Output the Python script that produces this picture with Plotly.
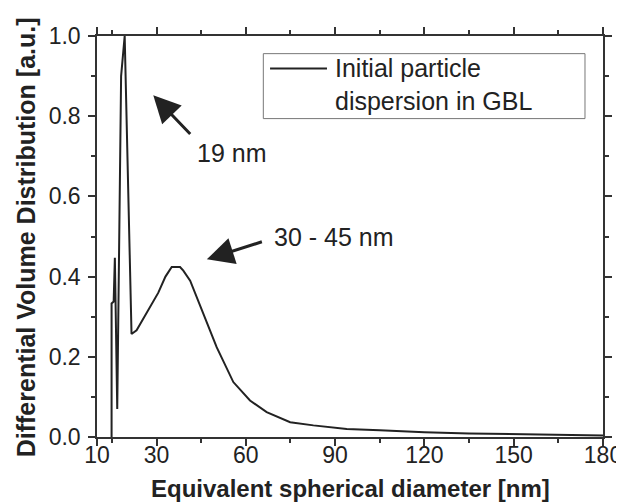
import plotly.graph_objects as go

# Data
diameter_nm = [14.9, 14.9, 15.6, 16.0, 16.8, 18.2, 18.1, 19.3, 21.6, 23.3, 27.2,
               30.6, 33.0, 35.1, 37.9, 39.0, 41.3, 44.6, 48.0, 50.2, 55.8, 61.4,
               67.0, 74.9, 82.7, 93.9, 105.0, 120.0, 135.0, 150.0, 165.0, 180.0]
volume_dist = [0.0, 0.333, 0.338, 0.447, 0.070, 0.845, 0.900, 1.0, 0.257, 0.266, 0.316,
               0.360, 0.400, 0.424, 0.424, 0.415, 0.390, 0.330, 0.266, 0.224, 0.137, 0.091,
               0.062, 0.037, 0.029, 0.020, 0.017, 0.012, 0.009, 0.007, 0.005, 0.004]

x_tick_vals = [10, 30, 60, 90, 120, 150, 180]
x_minor_vals = [15, 45, 75, 105, 135, 165]
y_tick_vals = [0.0, 0.2, 0.4, 0.6, 0.8, 1.0]

series_name = "Initial particle<br>dispersion in GBL"
x_title = "Equivalent spherical diameter [nm]"
y_title = "Differential Volume Distribution [a.u.]"

FONT = "Liberation Sans, Arial, sans-serif"
INK = "#222222"
AXC = "#333333"

fig = go.Figure()
fig.add_trace(go.Scatter(x=diameter_nm, y=volume_dist, mode="lines",
                         line=dict(color=INK, width=2), name=series_name,
                         showlegend=False, cliponaxis=False))

axis_common = dict(showline=True, linecolor=AXC, linewidth=1.5, mirror="ticks",
                   ticks="outside", ticklen=7, tickwidth=1.5, tickcolor=AXC,
                   showgrid=False, zeroline=False, automargin=False,
                   tickfont=dict(family=FONT, size=23, color=INK))

fig.update_xaxes(range=[10, 180], tickmode="array", tickvals=x_tick_vals,
                 minor=dict(tickmode="array", tickvals=x_minor_vals, ticks="outside",
                            ticklen=4, tickwidth=1.5, tickcolor=AXC),
                 ticklabelstandoff=-10,
                 **axis_common)
fig.update_yaxes(range=[0, 1.0], tickmode="array", tickvals=y_tick_vals,
                 tickformat=".1f",
                 minor=dict(dtick=0.1, ticks="outside", ticklen=4, tickwidth=1.5,
                            tickcolor=AXC),
                 ticklabelstandoff=3,
                 **axis_common)

# Axis titles
fig.add_annotation(x=0.5, y=-0.128, xref="paper", yref="paper",
                   text="<b>%s</b>" % x_title, showarrow=False,
                   xanchor="center", yanchor="middle",
                   font=dict(family=FONT, size=24, color=INK))
fig.add_annotation(x=-0.1403, y=0.498, xref="paper", yref="paper",
                   text="<b>%s</b>" % y_title, showarrow=False, textangle=-90,
                   xanchor="center", yanchor="middle",
                   font=dict(family=FONT, size=25, color=INK))

# Arrows (head at x,y ; tail at ax,ay)
fig.add_annotation(x=28.9, y=0.852, ax=41.8, ay=0.752, xref="x", yref="y",
                   axref="x", ayref="y", text="", showarrow=True, arrowhead=2,
                   arrowsize=1.8, arrowwidth=3, arrowcolor=INK, standoff=0)
fig.add_annotation(x=43.0, y=0.707, xref="x", yref="y", text="19 nm",
                   showarrow=False, xanchor="left", yanchor="middle",
                   font=dict(family=FONT, size=25, color=INK))
fig.add_annotation(x=46.9, y=0.443, ax=65.9, ay=0.488, xref="x", yref="y",
                   axref="x", ayref="y", text="", showarrow=True, arrowhead=2,
                   arrowsize=1.8, arrowwidth=3, arrowcolor=INK, standoff=0)
fig.add_annotation(x=68.8, y=0.498, xref="x", yref="y", text="30 - 45 nm",
                   showarrow=False, xanchor="left", yanchor="middle",
                   font=dict(family=FONT, size=25, color=INK))

# Custom legend box
fig.add_shape(type="rect", xref="paper", yref="paper", x0=0.3287, x1=0.9644,
              y0=0.794, y1=0.956, line=dict(color="#777777", width=1),
              fillcolor="rgba(0,0,0,0)")
fig.add_shape(type="line", xref="paper", yref="paper", x0=0.342, x1=0.4545,
              y0=0.9187, y1=0.9187, line=dict(color=INK, width=2))
fig.add_annotation(x=0.4664, y=0.8795, xref="paper", yref="paper",
                   text=series_name, showarrow=False, xanchor="left",
                   yanchor="middle", align="left",
                   font=dict(family=FONT, size=25, color=INK))

# The page has an 8px body margin, so the figure is sized to fit the window
fig.update_layout(width=616, height=496, margin=dict(l=89, r=21, t=28, b=67),
                  paper_bgcolor="white", plot_bgcolor="white",
                  font=dict(family=FONT, color=INK))

fig.write_html("out.html")
